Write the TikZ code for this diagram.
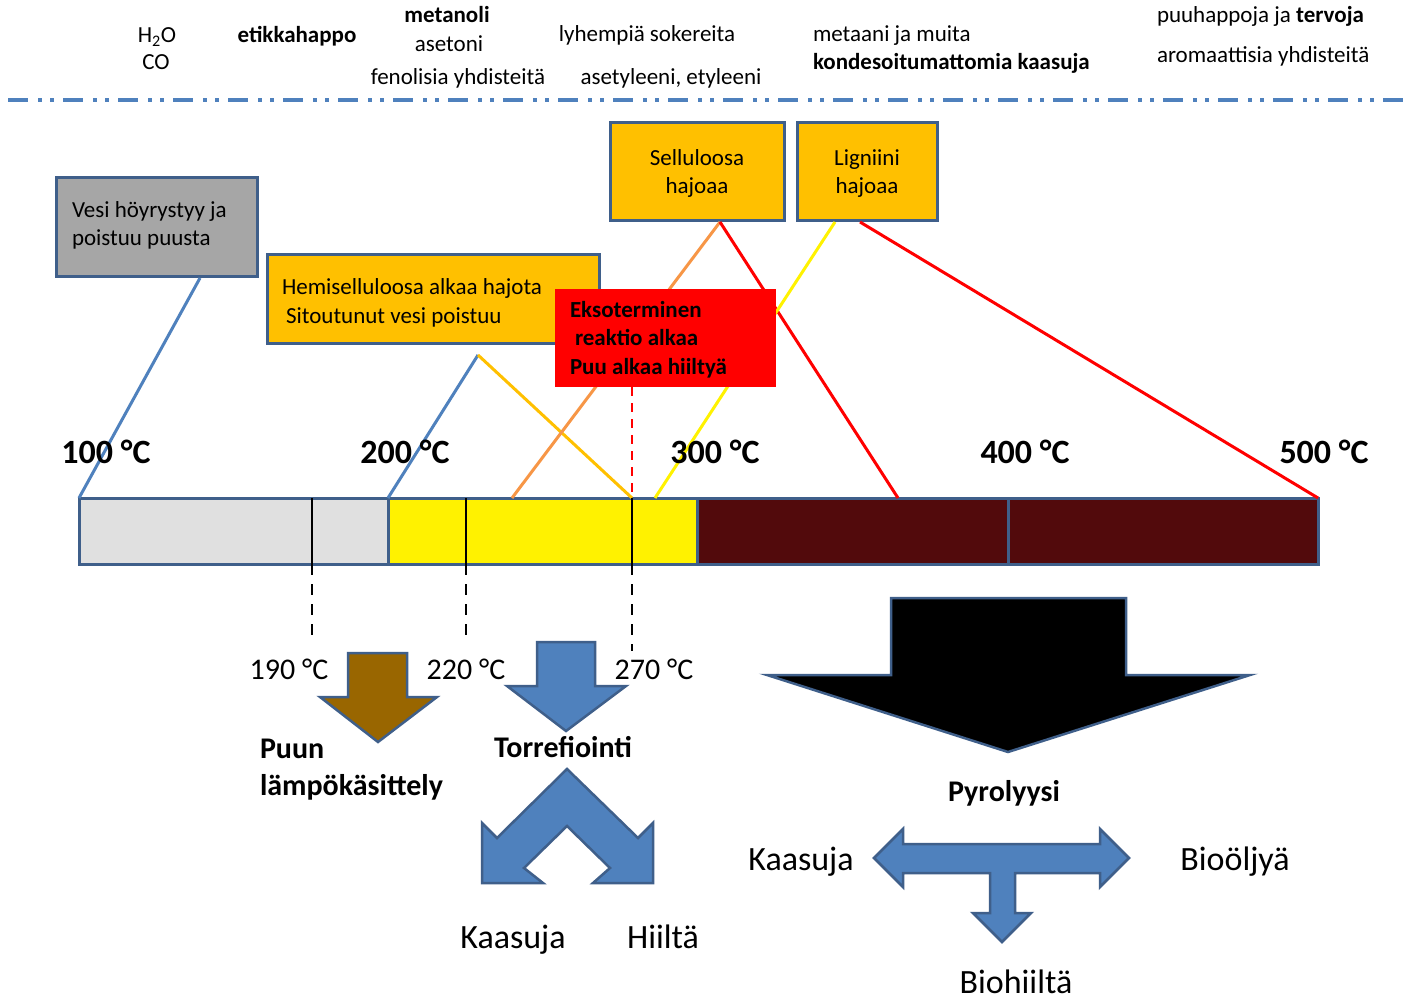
\documentclass[tikz,border=0pt]{standalone}
\usepackage{fontspec}
\setmainfont{Carlito}
\definecolor{frame}{HTML}{3F5F8A}
\definecolor{steel}{HTML}{4F81BD}
\definecolor{amber}{HTML}{FFC000}
\definecolor{tan}{HTML}{F79646}
\definecolor{ash}{HTML}{A6A6A6}
\definecolor{pale}{HTML}{E0E0E0}
\definecolor{maroon}{HTML}{520A0C}
\definecolor{umber}{HTML}{996600}
\begin{document}
\begin{tikzpicture}[x=1pt,y=-1pt,
  every node/.style={inner sep=0pt, outer sep=0pt},
  small/.style={font=\fontsize{23}{28}\selectfont},
  smallb/.style={font=\bfseries\fontsize{23}{28}\selectfont},
  mid/.style={font=\fontsize{30}{36}\selectfont},
  midb/.style={font=\bfseries\fontsize{30}{37}\selectfont},
  temp/.style={font=\bfseries\fontsize{34}{40}\selectfont},
  big/.style={font=\fontsize{34}{40}\selectfont},
  box/.style={draw=frame, line width=3pt, anchor=north west},
  seg/.style={draw=frame, line width=3pt, anchor=north west, minimum height=66pt},
  link/.style={line width=3pt},
  tick/.style={line width=2.2pt, black},
  guide/.style={line width=2.2pt, black, dash pattern=on 11pt off 9pt},
  block/.style={draw=frame, line width=2.5pt, line join=miter}
]
\path[fill=white] (0,0) rectangle (1409,1000);
\useasboundingbox (0,0) rectangle (1409,1000);

% products released
\node[small, anchor=base] (h2o) at (157,43) {H\textsubscript{2}O};
\node[small, anchor=base] (co) at (156,70) {CO};
\node[smallb, anchor=base] (etikka) at (297,43) {etikkahappo};
\node[smallb, anchor=base] (metanoli) at (447,23) {metanoli};
\node[small, anchor=base] (asetoni) at (449,52) {asetoni};
\node[small, anchor=base] (fenol) at (458,85) {fenolisia yhdisteitä};
\node[small, anchor=base] (sokeri) at (647,42) {lyhempiä sokereita};
\node[small, anchor=base] (asetyl) at (671,85) {asetyleeni, etyleeni};
\node[small, anchor=base west] (metaani) at (813,42) {metaani ja muita};
\node[smallb, anchor=base west] (kondens) at (813,70) {kondesoitumattomia kaasuja};
\node[small, anchor=base west] (puuhappo) at (1157,23) {puuhappoja ja \textbf{tervoja}};
\node[small, anchor=base west] (aromaat) at (1157,63) {aromaattisia yhdisteitä};

% separator
\draw[steel, line width=4pt, dash pattern=on 20pt off 10pt on 4pt off 8pt on 4pt off 9pt] (8,100) -- (1405,100);

% process boxes
\node[box, fill=ash, minimum width=201pt, minimum height=99pt] (vesi) at (56,178) {};
\node[small, anchor=base west] (vesiA) at (72,218) {Vesi höyrystyy ja};
\node[small, anchor=base west] (vesiB) at (72,246) {poistuu puusta};
\node[box, fill=amber, minimum width=332pt, minimum height=89pt] (hemi) at (267,255) {};
\node[small, anchor=base west] (hemiA) at (282,295) {Hemiselluloosa alkaa hajota};
\node[small, anchor=base west] (hemiB) at (286,324) {Sitoutunut vesi poistuu};
\node[box, fill=amber, minimum width=174pt, minimum height=98pt] (sellu) at (610,123) {};
\node[small, anchor=base] (selluA) at (697,166) {Selluloosa};
\node[small, anchor=base] (selluB) at (697,194) {hajoaa};
\node[box, fill=amber, minimum width=140pt, minimum height=98pt] (lign) at (797,123) {};
\node[small, anchor=base] (lignA) at (867,166) {Ligniini};
\node[small, anchor=base] (lignB) at (867,194) {hajoaa};

% connector end points
\coordinate (vesiFoot) at (200,278);
\coordinate (hemiFoot) at (478,355);
\coordinate (selFoot) at (720,222);
\coordinate (ligFootA) at (835,222);
\coordinate (ligFootB) at (860,222);
\coordinate (t512) at (512,498);
\coordinate (t632) at (632,498);
\coordinate (t655) at (655,498);
\coordinate (t898) at (898,498);

% temperature bar
\node[seg, fill=pale, minimum width=309pt] (seg1) at (79,498) {};
\node[seg, fill=yellow, minimum width=309pt] (seg2) at (388,498) {};
\node[seg, fill=maroon, minimum width=311pt] (seg3) at (697,498) {};
\node[seg, fill=maroon, minimum width=310pt] (seg4) at (1008,498) {};

% connectors from the boxes to the bar
\draw[link, steel] (vesiFoot) -- (seg1.north west);
\draw[link, steel] (hemiFoot) -- (seg2.north west);
\draw[link, amber] (hemiFoot) -- (t632);
\draw[link, tan] (selFoot) -- (t512);
\draw[link, red] (selFoot) -- (t898);
\draw[link, yellow] (ligFootA) -- (t655);
\draw[link, red] (ligFootB) -- (seg4.north east);

% exothermic stage
\node[anchor=north west, fill=red, minimum width=221pt, minimum height=98pt] (exo) at (555,289) {};
\node[smallb, anchor=base west] (exoA) at (570,318) {Eksoterminen};
\node[smallb, anchor=base west] (exoB) at (575,346) {reaktio alkaa};
\node[smallb, anchor=base west] (exoC) at (570,374) {Puu alkaa hiiltyä};
\draw[link, red, line width=2.2pt, dash pattern=on 9pt off 7pt] (exo.south -| t632) -- (t632);

% scale labels
\node[temp, anchor=base] (c100) at (106,463) {100 °C};
\node[temp, anchor=base] (c200) at (405,463) {200 °C};
\node[temp, anchor=base] (c300) at (715,463) {300 °C};
\node[temp, anchor=base] (c400) at (1025,463) {400 °C};
\node[temp, anchor=base] (c500) at (1324,463) {500 °C};

% process limits
\coordinate (m190) at (312,498);
\coordinate (m220) at (466,498);
\coordinate (m270) at (632,498);
\coordinate (b190) at (312,564);
\coordinate (b220) at (466,564);
\coordinate (b270) at (632,564);
\coordinate (e190) at (312,638);
\coordinate (e220) at (466,638);
\coordinate (e270) at (632,651);
\draw[tick] (m190) -- (b190);
\draw[tick] (m220) -- (b220);
\draw[tick] (m270) -- (b270);
\draw[guide] (b190) -- (e190);
\draw[guide] (b220) -- (e220);
\draw[guide] (b270) -- (e270);
\node[mid, anchor=base] (l190) at (289,679) {190 °C};
\node[mid, anchor=base] (l220) at (466,679) {220 °C};
\node[mid, anchor=base] (l270) at (654,679) {270 °C};

% heat treatment
\draw[block, fill=umber] (348,653) -- (407,653) -- (407,697) -- (437,697) -- (378,742) -- (320,697) -- (348,697) -- cycle;
\node[midb, anchor=base west] (puun) at (260,758) {Puun};
\node[midb, anchor=base west] (lampo) at (260,795) {lämpökäsittely};

% torrefaction
\draw[block, fill=steel] (537,642) -- (595,642) -- (595,686) -- (626,686) -- (566,731) -- (507,686) -- (537,686) -- cycle;
\node[midb, anchor=base] (torre) at (563,757) {Torrefiointi};
\draw[block, fill=steel] (567,769) -- (638,838) -- (653,823) -- (653,883) -- (593,883) -- (610,868) -- (567,826) -- (524,868) -- (543,883) -- (482,883) -- (482,823) -- (497,838) -- cycle;
\node[big, anchor=base] (tkaasu) at (513,948) {Kaasuja};
\node[big, anchor=base] (thiili) at (663,948) {Hiiltä};

% pyrolysis
\draw[block, fill=black] (891,598) -- (1126,598) -- (1126,675) -- (1250,675) -- (1008,752) -- (767,675) -- (891,675) -- cycle;
\node[midb, anchor=base] (pyro) at (1004,801) {Pyrolyysi};
\draw[block, fill=steel] (874,858) -- (903,829) -- (903,844) -- (1100,844) -- (1100,829) -- (1129,858) -- (1100,887) -- (1100,873) -- (1015,873) -- (1015,913) -- (1031,913) -- (1002,942) -- (973,913) -- (990,913) -- (990,873) -- (903,873) -- (903,887) -- cycle;
\node[big, anchor=base] (pkaasu) at (801,870) {Kaasuja};
\node[big, anchor=base] (bioolj) at (1235,870) {Bioöljyä};
\node[big, anchor=base] (biohiili) at (1016,993) {Biohiiltä};
\end{tikzpicture}
\end{document}
